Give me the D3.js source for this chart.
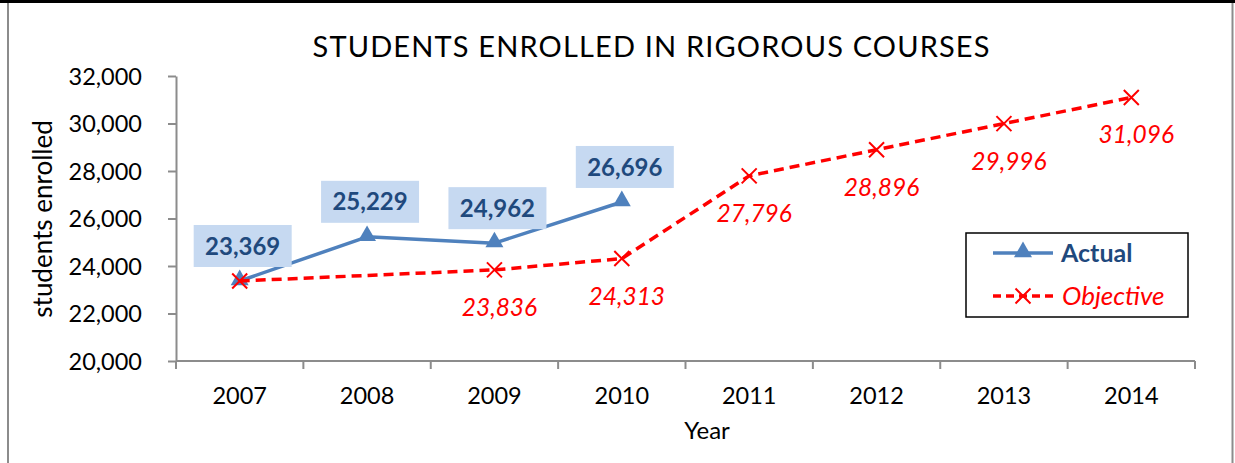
<!DOCTYPE html>
<html>
<head>
<meta charset="utf-8">
<script src="https://cdn.jsdelivr.net/npm/d3@7"></script>
<style>
  html, body { margin: 0; padding: 0; background: #fff; }
  svg { display: block; }
  text { font-family: Lato, "Open Sans", sans-serif; }
</style>
</head>
<body>
<svg id="chart" width="1235" height="463"></svg>
<script>
// Enrollment in rigorous courses: actual counts vs. objective targets
const years = ["2007", "2008", "2009", "2010", "2011", "2012", "2013", "2014"];
const actual = [23369, 25229, 24962, 26696, null, null, null, null];
const objective = [23369, null, 23836, 24313, 27796, 28896, 29996, 31096];
// which objective points carry a value label
const objectiveLabelled = [false, false, true, true, true, true, true, true];
const yTicks = [20000, 22000, 24000, 26000, 28000, 30000, 32000];
const yDomain = [20000, 32000];

const svg = d3.select("#chart");
const W = 1235, H = 463;
const plot = { left: 176, right: 1195, top: 76, bottom: 361 };

const axisGrey = "#8c8c8c";
const blue = "#4f81bd";
const navy = "#1f497d";
const boxFill = "#c6d9f1";
const red = "#ff0000";
const fmt = d3.format(",");

// outer chart frame
svg.append("rect").attr("x", 0).attr("y", 0).attr("width", W).attr("height", 3).attr("fill", "#000");
svg.append("line").attr("x1", 8).attr("x2", 8).attr("y1", 3).attr("y2", H)
  .attr("stroke", axisGrey).attr("stroke-width", 2);
svg.append("line").attr("x1", 1232.5).attr("x2", 1232.5).attr("y1", 3).attr("y2", H)
  .attr("stroke", axisGrey).attr("stroke-width", 2);

const x = d3.scaleBand().domain(years).range([plot.left, plot.right]);
const y = d3.scaleLinear().domain(yDomain).range([plot.bottom, plot.top]);
const cx = d => x(d) + x.bandwidth() / 2;

// title
svg.append("text")
  .attr("x", 651).attr("y", 57)
  .attr("text-anchor", "middle")
  .attr("font-size", 29)
  .attr("textLength", 677).attr("lengthAdjust", "spacing")
  .attr("fill", "#000")
  .text("STUDENTS ENROLLED IN RIGOROUS COURSES");

// y axis
const yAxis = svg.append("g")
  .attr("transform", `translate(${plot.left},0)`)
  .call(d3.axisLeft(y).tickValues(yTicks).tickFormat(fmt).tickSize(8).tickSizeOuter(0).tickPadding(26));
yAxis.select(".domain").attr("stroke", axisGrey).attr("stroke-width", 2);
yAxis.selectAll(".tick line").attr("stroke", axisGrey).attr("stroke-width", 2);
yAxis.selectAll(".tick text").attr("font-size", 23.5).attr("fill", "#000")
  .attr("font-family", "Lato, sans-serif").attr("dy", "0.36em");

// x axis: labels centered in bands, ticks on band boundaries
const xAxis = svg.append("g")
  .attr("transform", `translate(0,${plot.bottom})`)
  .call(d3.axisBottom(x).tickSize(0).tickSizeOuter(0).tickPadding(26));
xAxis.select(".domain").attr("stroke", axisGrey).attr("stroke-width", 2)
  .attr("d", `M${plot.left},0H${plot.right}`);
xAxis.selectAll(".tick text").attr("font-size", 23.5).attr("fill", "#000")
  .attr("font-family", "Lato, sans-serif");
const boundaries = years.map(d => x(d)).concat([plot.right]);
xAxis.selectAll("line.boundary").data(boundaries).join("line")
  .attr("class", "boundary")
  .attr("x1", d => d).attr("x2", d => d)
  .attr("y1", 0).attr("y2", 8)
  .attr("stroke", axisGrey).attr("stroke-width", 2);

// axis titles
svg.append("text")
  .attr("transform", "translate(52,219) rotate(-90)")
  .attr("text-anchor", "middle")
  .attr("font-size", 26)
  .attr("fill", "#000")
  .text("students enrolled");
svg.append("text")
  .attr("x", 707).attr("y", 439)
  .attr("text-anchor", "middle")
  .attr("font-size", 24)
  .attr("fill", "#000")
  .text("Year");

// Actual series
const actualPts = years.map((d, i) => ({ year: d, v: actual[i] })).filter(p => p.v != null);
const objPts = years.map((d, i) => ({ year: d, v: objective[i], lab: objectiveLabelled[i] })).filter(p => p.v != null);
const line = d3.line().x(p => cx(p.year)).y(p => y(p.v));

svg.append("path").datum(actualPts)
  .attr("d", line).attr("fill", "none")
  .attr("stroke", blue).attr("stroke-width", 3.5).attr("stroke-linejoin", "round");

const tri = d3.symbol().type(d3.symbolTriangle).size(140);
svg.selectAll("path.tri").data(actualPts).join("path")
  .attr("class", "tri")
  .attr("d", tri)
  .attr("transform", p => `translate(${cx(p.year)},${y(p.v) - 1})`)
  .attr("fill", blue);

// Objective series
svg.append("path").datum(objPts)
  .attr("d", line).attr("fill", "none")
  .attr("stroke", red).attr("stroke-width", 3.5)
  .attr("stroke-dasharray", "10,6");

const xMark = (g, s) => {
  g.append("path")
    .attr("d", `M${-s},${-s}L${s},${s}M${-s},${s}L${s},${-s}`)
    .attr("stroke", red).attr("stroke-width", 2).attr("fill", "none");
};
svg.selectAll("g.xm").data(objPts).join("g")
  .attr("class", "xm")
  .attr("transform", p => `translate(${cx(p.year)},${y(p.v)})`)
  .each(function () { xMark(d3.select(this), 7.5); });

// Actual value labels in shaded boxes
const aLab = svg.selectAll("g.alab").data(actualPts).join("g")
  .attr("class", "alab")
  .attr("transform", p => `translate(${cx(p.year) + 3},${y(p.v) - 35})`);
aLab.append("rect")
  .attr("x", -49).attr("y", -21).attr("width", 98).attr("height", 42)
  .attr("fill", boxFill);
aLab.append("text")
  .attr("text-anchor", "middle").attr("dy", "0.36em")
  .attr("font-size", 24).attr("font-weight", "bold")
  .attr("fill", navy)
  .text(p => fmt(p.v));

// Objective value labels
svg.selectAll("text.olab").data(objPts.filter(p => p.lab)).join("text")
  .attr("class", "olab")
  .attr("x", p => cx(p.year) + 5)
  .attr("y", p => y(p.v) + 46)
  .attr("text-anchor", "middle")
  .attr("font-size", 24.5).attr("font-style", "italic")
  .attr("fill", red)
  .text(p => fmt(p.v));

// legend
const lg = svg.append("g").attr("transform", "translate(966,233)");
lg.append("rect").attr("x", 0).attr("y", 0).attr("width", 222).attr("height", 84)
  .attr("fill", "#fff").attr("stroke", "#000").attr("stroke-width", 1.5);
lg.append("line").attr("x1", 27).attr("x2", 87).attr("y1", 20).attr("y2", 20)
  .attr("stroke", blue).attr("stroke-width", 3.5);
lg.append("path").attr("d", tri).attr("transform", "translate(57,19)").attr("fill", blue);
lg.append("text").attr("x", 95).attr("y", 29)
  .attr("font-size", 25).attr("font-weight", "bold").attr("fill", navy).text("Actual");
lg.append("line").attr("x1", 27).attr("x2", 87).attr("y1", 63).attr("y2", 63)
  .attr("stroke", red).attr("stroke-width", 3.5).attr("stroke-dasharray", "8,5");
lg.append("g").attr("transform", "translate(57,63)").call(g => xMark(g, 7.5));
lg.append("text").attr("x", 96).attr("y", 72)
  .attr("font-size", 26).attr("font-style", "italic").attr("fill", red).text("Objective");
</script>
</body>
</html>
